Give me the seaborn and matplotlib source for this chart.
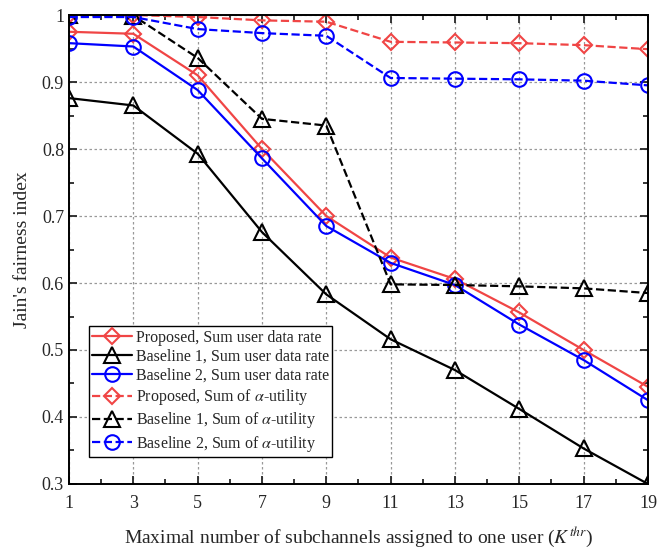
import matplotlib
matplotlib.use("Agg")
import matplotlib.pyplot as plt
from matplotlib.ticker import MultipleLocator
import seaborn as sns
import pandas as pd

k_thr = [1, 3, 5, 7, 9, 11, 13, 15, 17, 19]
y_ticks = [0.3, 0.4, 0.5, 0.6, 0.7, 0.8, 0.9, 1.0]
y_tick_labels = ["0.3", "0.4", "0.5", "0.6", "0.7", "0.8", "0.9", "1"]

proposed_rate = [0.975, 0.972, 0.910, 0.800, 0.700, 0.638, 0.606, 0.556, 0.500, 0.445]
baseline1_rate = [0.876, 0.865, 0.793, 0.676, 0.583, 0.516, 0.470, 0.412, 0.353, 0.300]
baseline2_rate = [0.958, 0.953, 0.888, 0.786, 0.685, 0.630, 0.597, 0.538, 0.485, 0.425]
proposed_alpha = [1.000, 1.000, 0.997, 0.992, 0.990, 0.960, 0.959, 0.958, 0.955, 0.949]
baseline1_alpha = [1.000, 0.999, 0.936, 0.845, 0.835, 0.598, 0.597, 0.595, 0.592, 0.585]
baseline2_alpha = [0.997, 0.997, 0.979, 0.973, 0.969, 0.906, 0.905, 0.904, 0.902, 0.895]

series_labels = [
    "Proposed, Sum user data rate",
    "Baseline 1, Sum user data rate",
    "Baseline 2, Sum user data rate",
    r"Proposed, Sum of $\alpha$-utility",
    r"Baseline 1, Sum of $\alpha$-utility",
    r"Baseline 2, Sum of $\alpha$-utility",
]
series_values = [proposed_rate, baseline1_rate, baseline2_rate,
                 proposed_alpha, baseline1_alpha, baseline2_alpha]

colors = ["#f04545", "black", "blue", "#f04545", "black", "blue"]
markers = ["D", "^", "o", "D", "^", "o"]
msizes = [8, 12, 10.5, 8, 12, 10.5]
linestyles = ["-", "-", "-", "--", "--", "--"]

sns.set_style("ticks")
plt.rcParams["font.family"] = ["Liberation Serif", "DejaVu Serif"]
plt.rcParams["mathtext.fontset"] = "stix"

fig = plt.figure(figsize=(6.6, 5.48), dpi=100)
ax = fig.add_axes([0.1045, 0.1168, 0.8773, 0.8558])

for lab, vals, c, m, ms, ls in zip(series_labels, series_values, colors,
                                   markers, msizes, linestyles):
    df = pd.DataFrame({"k": k_thr, "jfi": vals})
    sns.lineplot(data=df, x="k", y="jfi", ax=ax, color=c, label=lab,
                 marker=m, markersize=ms, markerfacecolor="none",
                 markeredgecolor=c, markeredgewidth=1.5, linewidth=1.6,
                 linestyle=ls, dashes=(3.5, 2.2) if ls == "--" else None)

ax.set_xlim(1, 19)
ax.set_ylim(0.3, 1.0)
ax.set_xticks(k_thr)
ax.set_xticklabels([str(k) for k in k_thr])
ax.xaxis.set_minor_locator(MultipleLocator(1))
ax.set_yticks(y_ticks)
ax.set_yticklabels(y_tick_labels)
ax.yaxis.set_minor_locator(MultipleLocator(0.05))
ax.tick_params(which="both", direction="in", top=True, right=True,
               labelsize=13, width=1.3)
ax.tick_params(which="major", length=6)
ax.tick_params(which="minor", length=3.5)
ax.tick_params(axis="x", pad=8)
ax.grid(True, which="major", linestyle=(0, (2, 2)), color="#999999", linewidth=0.9)
for sp in ax.spines.values():
    sp.set_linewidth(1.4)
    sp.set_color("black")

ax.set_xlabel(r"Maximal number of subchannels assigned to one user ($K^{thr}$)",
              fontsize=14, labelpad=9)
ax.set_ylabel("Jain's fairness index", fontsize=14, labelpad=8)

leg = ax.legend(loc="lower left", bbox_to_anchor=(0.034, 0.058), fontsize=11.5,
                frameon=True, fancybox=False, edgecolor="black",
                handlelength=2.5, handletextpad=0.25, borderpad=0.2,
                labelspacing=0.2, borderaxespad=0)
leg.get_frame().set_linewidth(1.0)
leg.get_frame().set_alpha(1)

fig.savefig("out.png", dpi=100)
